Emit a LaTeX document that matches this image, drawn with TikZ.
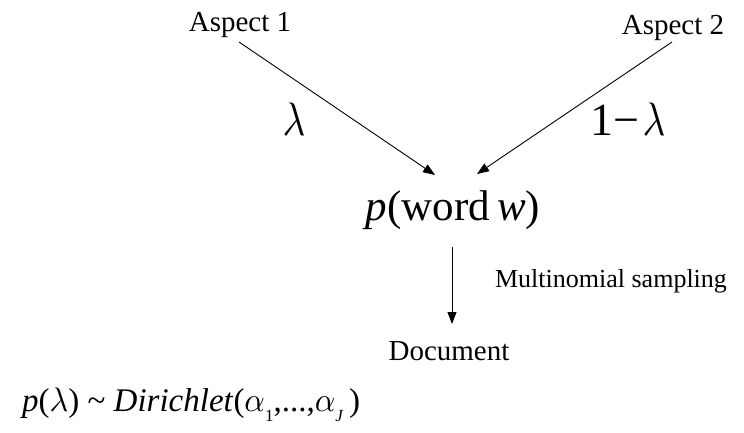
\documentclass[tikz,border=0pt]{standalone}
\usepackage{fontspec}
\setmainfont{Liberation Serif}
\usetikzlibrary{arrows.meta}
% Greek letter from the math font at 10pt, scaled to the surrounding size
\newcommand\sgreek[3]{\scalebox{#1}[#2]{\normalsize$#3$}}
% lowered subscript for the formula
\newcommand\lowsub[1]{\raisebox{-0.32em}{\fontsize{17}{18}\selectfont #1}}
\begin{document}
\begin{tikzpicture}[x=1pt,y=-1pt,
  txt/.style={inner sep=0pt, anchor=base, font=\fontsize{29}{32}\selectfont},
  big/.style={inner sep=0pt, anchor=base, font=\fontsize{43}{46}\selectfont},
  greek/.style={inner sep=0pt, anchor=base, font=\fontsize{46}{50}\selectfont},
  small/.style={inner sep=0pt, anchor=base, font=\fontsize{26}{29}\selectfont},
  formula/.style={inner sep=0pt, anchor=base west, font=\fontsize{33}{36}\selectfont},
  link/.style={line width=0.9pt, -{Triangle[length=12pt,width=9pt]}}]
\useasboundingbox (0,0) rectangle (744,432);

% aspects
\node[txt] (a1) at (240,31) {Aspect 1};
\node[txt] (a2) at (673,34) {Aspect 2};

% mixing weights
\node[greek] (w1) at (294,135) {\sgreek{3.9}{4.7}{\lambda}};
\node[greek] (w2) at (628,135) {1−\kern3pt\sgreek{3.9}{4.7}{\lambda}};

% word distribution and document
\node[big] (pw) at (453,220) {\textit{p}(word\,\textit{w})};
\node[txt] (doc) at (449,360) {Document};
\node[small] (ms) at (611,287) {Multinomial sampling};

% prior on the weights
\node[formula] (prior) at (22,411)
  {\textit{p}(\sgreek{3.2}{3.4}{\lambda}) \char"007E{} \textit{Dirichlet}(\sgreek{3.2}{3.4}{\alpha}\lowsub{1},...,\sgreek{3.2}{3.4}{\alpha}\lowsub{\textit{J}}\,)};

% arrow end points
\coordinate (s1) at (239,42);
\coordinate (t1) at (435,175);
\coordinate (s2) at (672,42);
\coordinate (t2) at (477,174);
\coordinate (s3) at (452,247);
\coordinate (t3) at (452,324);

\draw[link] (s1) -- (t1);
\draw[link] (s2) -- (t2);
\draw[link] (s3) -- (t3);
\end{tikzpicture}
\end{document}
